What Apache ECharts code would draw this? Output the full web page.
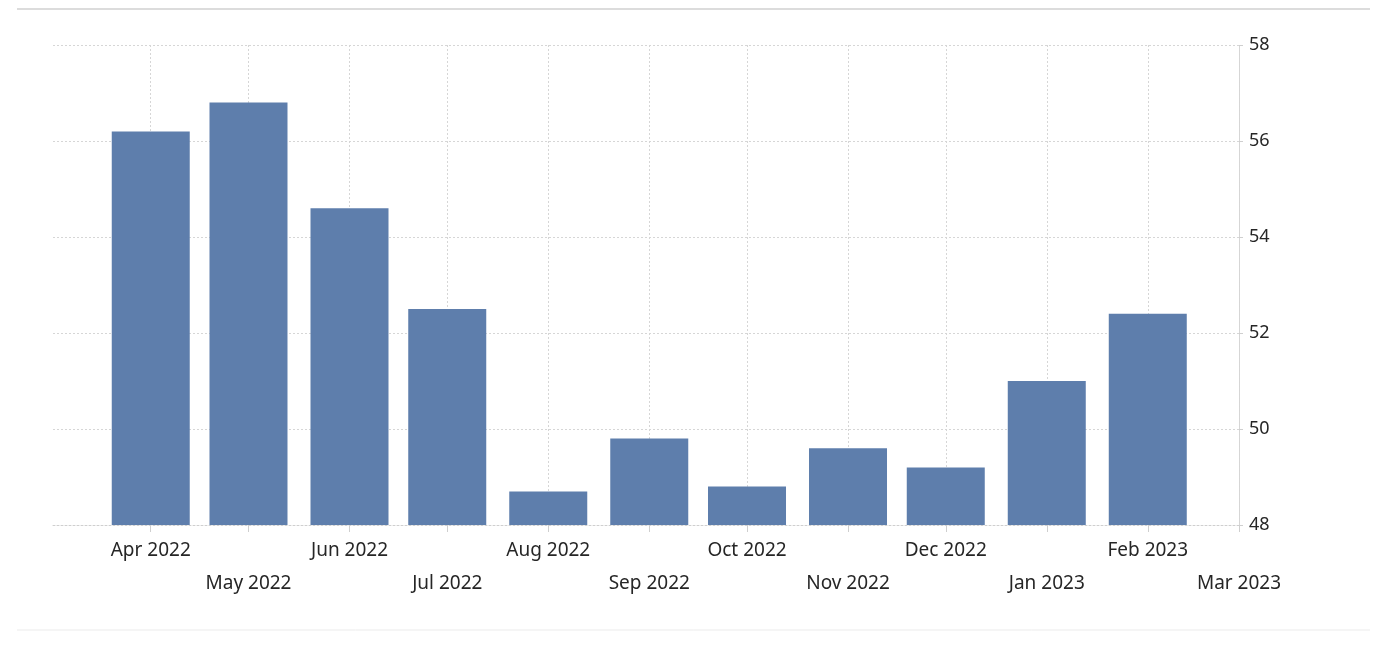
<!DOCTYPE html>
<html>
<head>
<meta charset="utf-8">
<script src="https://cdn.jsdelivr.net/npm/echarts@6/dist/echarts.min.js"></script>
<style>
html,body{margin:0;padding:0;background:#fff;}
#chart{width:1386px;height:646px;}
</style>
</head>
<body>
<div id="chart"></div>
<script>
// Months (year, monthIndex) of each bar, and values
const barMonths = [[2022,3],[2022,4],[2022,5],[2022,6],[2022,7],[2022,8],[2022,9],[2022,10],[2022,11],[2023,0],[2023,1]];
const values = [56.2, 56.8, 54.6, 52.5, 48.7, 49.8, 48.8, 49.6, 49.2, 51.0, 52.4];
// Tick labels (month starts) Apr 2022 .. Mar 2023
const tickMonths = [[2022,3],[2022,4],[2022,5],[2022,6],[2022,7],[2022,8],[2022,9],[2022,10],[2022,11],[2023,0],[2023,1],[2023,2]];
const tickLabels = ['Apr 2022','May 2022','Jun 2022','Jul 2022','Aug 2022','Sep 2022','Oct 2022','Nov 2022','Dec 2022','Jan 2023','Feb 2023','Mar 2023'];
const yTicks = [48, 50, 52, 54, 56, 58];
const axisMin = [2022, 2, 2];
const axisMax = [2023, 2, 1];

const toTime = (ym) => Date.UTC(ym[0], ym[1], ym[2] || 1);
const tickTimes = tickMonths.map(m => toTime(m));
const labelByTime = {};
tickTimes.forEach((t, i) => { labelByTime[t] = { text: tickLabels[i], row: i % 2 }; });

const FONT = 'Noto Sans';
const chart = echarts.init(document.getElementById('chart'));
chart.setOption({
  animation: false,
  backgroundColor: '#fff',
  grid: { left: 53, right: 147, top: 45, bottom: 121, containLabel: false },
  graphic: [
    { type: 'line', shape: { x1: 17, y1: 9, x2: 1370, y2: 9 }, style: { stroke: '#dcdcdc', lineWidth: 2 } },
    { type: 'line', shape: { x1: 17, y1: 630, x2: 1370, y2: 630 }, style: { stroke: '#ebebeb', lineWidth: 1 } }
  ],
  xAxis: {
    type: 'value',
    min: toTime(axisMin),
    max: toTime(axisMax),
    scale: true,
    axisLine: { show: true, onZero: false, lineStyle: { color: '#cfcfcf', type: [2, 2], width: 1 } },
    axisTick: { show: true, length: 7, customValues: tickTimes, lineStyle: { color: '#cfcfcf' } },
    axisLabel: {
      customValues: tickTimes,
      margin: 9,
      fontFamily: FONT,
      fontSize: 19,
      color: '#262626',
      lineHeight: 33,
      showMinLabel: true,
      showMaxLabel: true,
      formatter: function (v) {
        const l = labelByTime[v];
        if (!l) return '';
        return l.row === 1 ? '\n' + l.text : l.text;
      }
    },
    splitLine: {
      show: true,
      lineStyle: { color: '#d6d6d6', type: [2, 2], width: 1 }
    }
  },
  yAxis: {
    type: 'value',
    position: 'right',
    min: yTicks[0],
    max: yTicks[yTicks.length - 1],
    interval: 2,
    axisLine: { show: true, lineStyle: { color: '#d6d6d6', type: [2, 2], width: 1 } },
    axisTick: { show: true, length: 4, lineStyle: { color: '#cfcfcf' } },
    axisLabel: { margin: 10, fontFamily: FONT, fontSize: 18, color: '#262626' },
    splitLine: { show: true, lineStyle: { color: '#d6d6d6', type: [2, 2], width: 1 } }
  },
  series: [{
    type: 'bar',
    data: barMonths.map((m, i) => [toTime(m), values[i]]),
    barWidth: 78,
    itemStyle: { color: '#5e7eac' }
  }]
});
</script>
</body>
</html>
